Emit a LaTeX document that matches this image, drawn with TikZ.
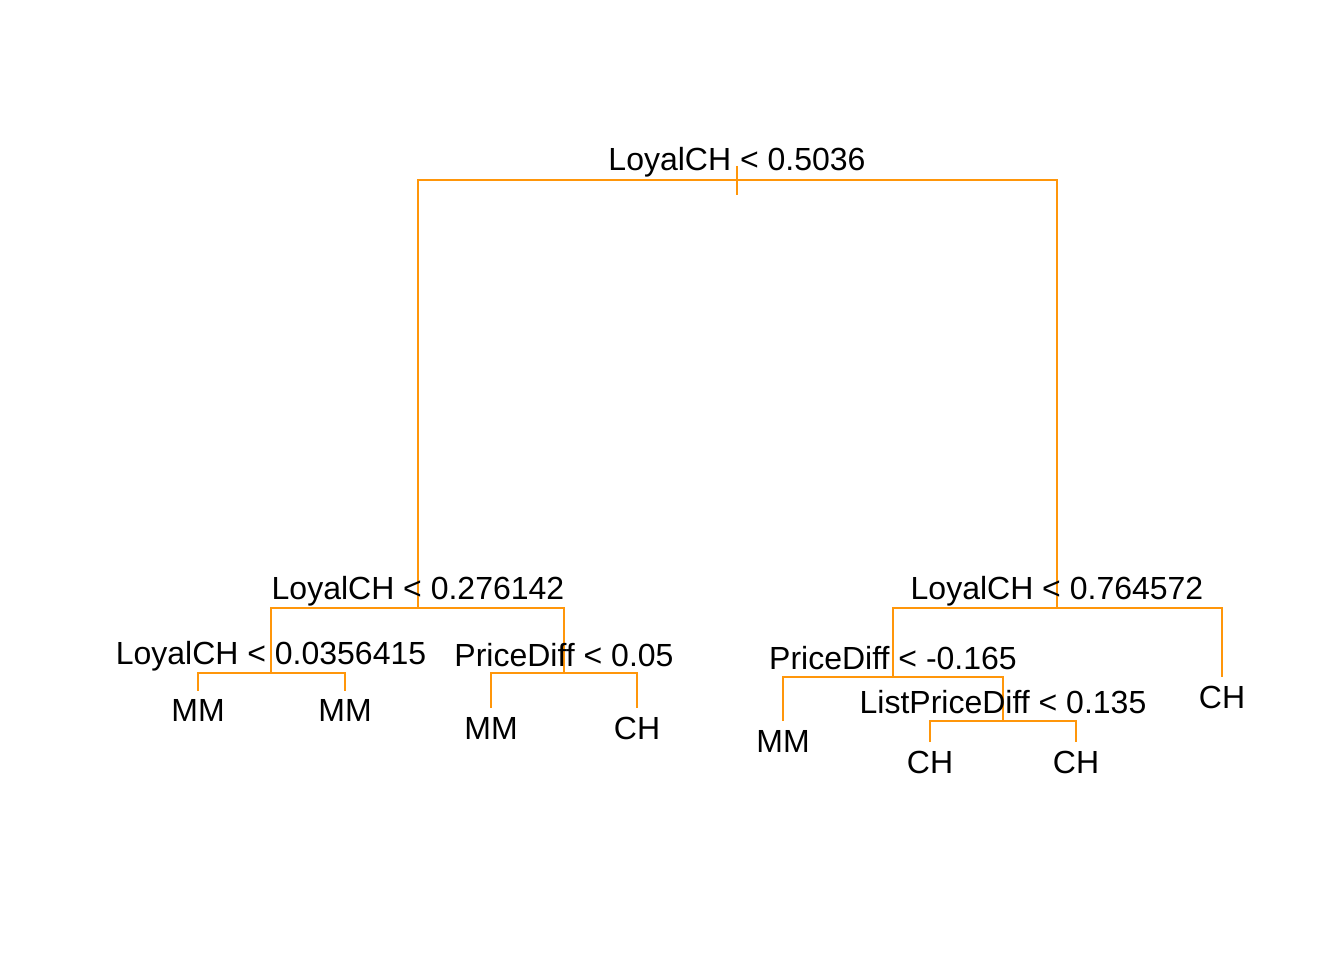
\documentclass[tikz,border=0pt]{standalone}
\usepackage{fontspec}
\setmainfont{Liberation Sans}
\definecolor{treeor}{RGB}{255,150,10}
\begin{document}
\begin{tikzpicture}[x=1pt,y=-1pt,
  edge/.style={draw=treeor,line width=2.2pt},
  split/.style={anchor=base,inner sep=0pt,font=\fontsize{32}{38}\selectfont},
  leaf/.style={anchor=base,inner sep=0pt,font=\fontsize{32}{38}\selectfont}]
\useasboundingbox (0,0) rectangle (1344,960);
% tree points
\coordinate (root) at (737,180);
\coordinate (rtop) at (737,166);
\coordinate (rbot) at (737,195);
\coordinate (L) at (418,608);
\coordinate (R) at (1057,608);
\coordinate (LL) at (271,672.7);
\coordinate (LR) at (564,672.7);
\coordinate (LLa) at (198,690.7);
\coordinate (LLb) at (345,690.7);
\coordinate (LRa) at (491,708);
\coordinate (LRb) at (637,708);
\coordinate (RL) at (893,677);
\coordinate (RR) at (1222,677);
\coordinate (RLa) at (783,721);
\coordinate (RLR) at (1003,721);
\coordinate (RLRa) at (930,742);
\coordinate (RLRb) at (1076,742);
% connectors
\draw[edge] (rtop) -- (rbot);
\draw[edge] (L) |- (root) -| (R);
\draw[edge] (LL) |- (L) -| (LR);
\draw[edge] (LLa) |- (LL) -| (LLb);
\draw[edge] (LRa) |- (LR) -| (LRb);
\draw[edge] (RL) |- (R) -| (RR);
\draw[edge] (RLa) |- (RL) -| (RLR);
\draw[edge] (RLRa) |- (RLR) -| (RLRb);
% split labels
\node[split] (troot) at ([yshift=9pt]root) {LoyalCH < 0.5036};
\node[split] (tL) at ([yshift=8.5pt]L) {LoyalCH < 0.276142};
\node[split] (tR) at ([yshift=8.5pt]R) {LoyalCH < 0.764572};
\node[split] (tLL) at ([yshift=8.5pt]LL) {LoyalCH < 0.0356415};
\node[split] (tLR) at ([yshift=6pt]LR) {PriceDiff < 0.05};
\node[split] (tRL) at ([yshift=8pt]RL) {PriceDiff < -0.165};
\node[split] (tRLR) at ([yshift=8pt]RLR) {ListPriceDiff < 0.135};
% leaf labels
\node[leaf] (nLLa) at ([yshift=-31pt]LLa) {MM};
\node[leaf] (nLLb) at ([yshift=-31pt]LLb) {MM};
\node[leaf] (nLRa) at ([yshift=-31pt]LRa) {MM};
\node[leaf] (nLRb) at ([yshift=-31pt]LRb) {CH};
\node[leaf] (nRLa) at ([yshift=-31pt]RLa) {MM};
\node[leaf] (nRLRa) at ([yshift=-31pt]RLRa) {CH};
\node[leaf] (nRLRb) at ([yshift=-31pt]RLRb) {CH};
\node[leaf] (nRR) at ([yshift=-31pt]RR) {CH};
\end{tikzpicture}
\end{document}
